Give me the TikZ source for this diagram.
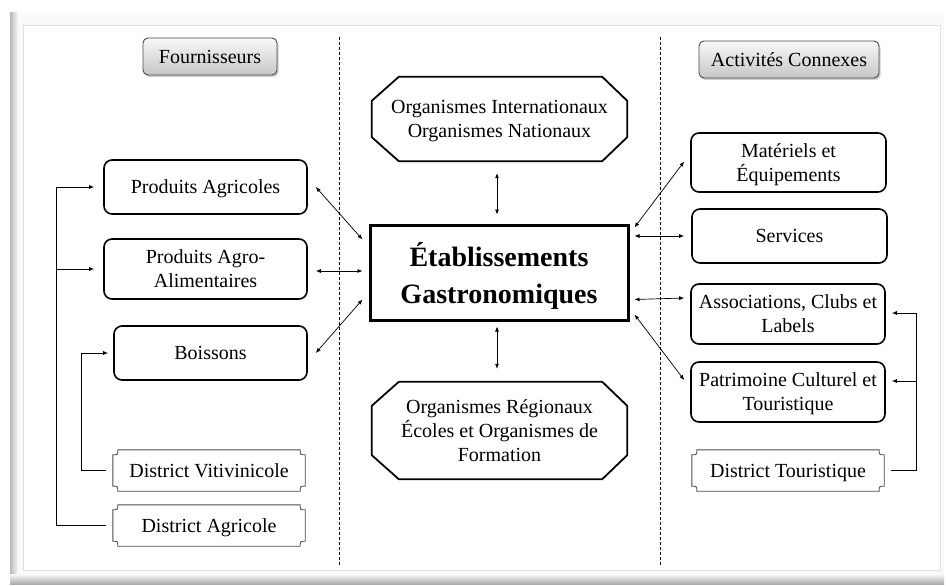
\documentclass[tikz,border=0pt]{standalone}
\usepackage{fontspec}
\setmainfont{Liberation Serif}
\usetikzlibrary{arrows.meta,calc,shadows}
\newcommand\myplaque[1]{%
 \draw[plqline] ($(#1.north west)+(5,0)$) -- ($(#1.north east)+(-5,0)$)
  .. controls ($(#1.north east)+(-5,5)$) .. ($(#1.north east)+(0,5)$)
  -- ($(#1.south east)+(0,-5)$)
  .. controls ($(#1.south east)+(-5,-5)$) .. ($(#1.south east)+(-5,0)$)
  -- ($(#1.south west)+(5,0)$)
  .. controls ($(#1.south west)+(5,-5)$) .. ($(#1.south west)+(0,-5)$)
  -- ($(#1.north west)+(0,5)$)
  .. controls ($(#1.north west)+(5,5)$) .. cycle;}
\newcommand\myocto[1]{%
 \draw[octline] ($(#1.north west)+(27,0)$) -- ($(#1.north east)+(-25,0)$)
  -- ($(#1.north east)+(0,24)$) -- ($(#1.south east)+(0,-24)$)
  -- ($(#1.south east)+(-25,0)$) -- ($(#1.south west)+(27,0)$)
  -- ($(#1.south west)+(0,-24)$) -- ($(#1.north west)+(0,24)$) -- cycle;}
\begin{document}
\begin{tikzpicture}[x=1pt,y=-1pt,
  txt/.style={font=\fontsize{20}{24}\selectfont, align=center, inner sep=0pt, text depth=0pt},
  box/.style={txt, draw, line width=1.6pt, rounded corners=8pt},
  hdr/.style={txt, draw=black!70, line width=0.9pt, rounded corners=5pt,
     top color=gray!5, bottom color=gray!45,
     drop shadow={shadow xshift=1.5pt, shadow yshift=-2pt, opacity=0.4}},
  plain/.style={txt},
  plqline/.style={line width=0.9pt, black!70},
  octline/.style={line width=1.8pt, line join=miter},
  dbl/.style={{Latex[length=5pt,width=4pt]}-{Latex[length=5pt,width=4pt]}, line width=0.7pt},
  fl/.style={-{Latex[length=5pt,width=4pt]}, line width=0.9pt},
  sep/.style={dashed, line width=0.7pt, dash pattern=on 3pt off 2pt}
]
\useasboundingbox (0,0) rectangle (946,586);
% frame
\fill[gray!5] (10,13) rectangle (944,584);
\shade[left color=gray!55, right color=gray!5] (10,13) rectangle (18,584);
\shade[top color=gray!5, bottom color=gray!65] (10,574) rectangle (944,584);
\draw[gray!25, fill=white] (23,25) rectangle (940,570);
% separators
\coordinate (s1t) at (339,37); \coordinate (s1b) at (339,565);
\coordinate (s2t) at (660,37); \coordinate (s2b) at (660,565);
\draw[sep] (s1t) -- (s1b);
\draw[sep] (s2t) -- (s2b);
% headers
\node[hdr, minimum width=134pt, minimum height=37pt] (four) at (210,56.5) {Fournisseurs};
\node[hdr, minimum width=180pt, minimum height=37pt] (act) at (789,59.5) {Activités Connexes};
% left column
\node[box, minimum width=203pt, minimum height=54pt] (pa) at (205.5,187) {Produits Agricoles};
\node[box, minimum width=203pt, minimum height=60pt] (paa) at (205.5,269) {Produits Agro-\\Alimentaires};
\node[box, minimum width=193pt, minimum height=54pt] (boi) at (210.5,353) {Boissons};
\node[plain, minimum width=192pt, minimum height=41pt] (dv) at (209,470.5) {District Vitivinicole};
\node[plain, minimum width=192pt, minimum height=41pt] (da) at (209,525.5) {District Agricole};
\myplaque{dv}
\myplaque{da}
% centre column
\node[plain, minimum width=255pt, minimum height=84pt] (oi) at (499.5,119) {Organismes Internationaux\\Organismes Nationaux};
\myocto{oi}
\node[txt, draw, line width=3pt, minimum width=258pt, minimum height=95pt,
      font=\fontsize{28}{37}\selectfont\bfseries] (ctr) at (499,272.5) {Établissements\\Gastronomiques};
\node[plain, minimum width=255pt, minimum height=97pt] (org) at (499.5,430.5) {Organismes Régionaux\\Écoles et Organismes de\\Formation};
\myocto{org}
% right column
\node[box, minimum width=195pt, minimum height=59pt] (mat) at (788.5,162.5) {Matériels et\\Équipements};
\node[box, minimum width=195pt, minimum height=54pt] (ser) at (789.5,236) {Services};
\node[box, minimum width=194pt, minimum height=60pt] (asso) at (788,314) {Associations, Clubs et\\Labels};
\node[box, minimum width=194pt, minimum height=60pt] (pat) at (788,392) {Patrimoine Culturel et\\Touristique};
\node[plain, minimum width=192pt, minimum height=41pt] (dt) at (788,470.5) {District Touristique};
\myplaque{dt}
% feeders left
\draw[fl] ([xshift=-7pt]da.west) -- ++(-49,0) |- ([xshift=-9pt]pa.west);
\coordinate (lj) at (57,269);
\draw[fl] (lj) -- ([xshift=-9pt]paa.west);
\draw[fl] ([xshift=-7pt]dv.west) -- ++(-24,0) |- ([xshift=-5pt]boi.west);
% feeders right
\draw[fl] ([xshift=7pt]dt.east) -- ++(25,0) |- ([xshift=6pt,yshift=1pt]asso.east);
\coordinate (rj) at (916,381);
\draw[fl] (rj) -- ([xshift=6pt,yshift=11pt]pat.east);
% double arrows
\draw[dbl] ([xshift=8pt]pa.east) -- ([xshift=-6pt,yshift=-16pt]ctr.north west);
\draw[dbl] ([xshift=8pt,yshift=-2pt]paa.east) -- ([xshift=-6pt,yshift=-2pt]ctr.west |- paa.east);
\draw[dbl] ([xshift=8pt]boi.east) -- ([xshift=-6pt,yshift=22pt]ctr.south west);
\draw[dbl] ([yshift=-12pt,xshift=-2.5pt]oi.south) -- ([yshift=9pt,xshift=-2pt]ctr.north);
\draw[dbl] ([yshift=-5pt,xshift=-2pt]ctr.south) -- ([yshift=13pt,xshift=-2.5pt]org.north);
\draw[dbl] ([xshift=5pt,yshift=-4pt]ctr.north east) -- ([xshift=-6pt,yshift=1pt]mat.west);
\draw[dbl] ([xshift=5pt]ctr.east |- ser.west) -- ([xshift=-7pt]ser.west);
\draw[dbl] ([xshift=5pt,yshift=22pt]ctr.south east) -- ([xshift=-6pt,yshift=16pt]asso.west);
\draw[dbl] ([xshift=5pt,yshift=7pt]ctr.south east) -- ([xshift=-6pt,yshift=12pt]pat.west);
\end{tikzpicture}
\end{document}
